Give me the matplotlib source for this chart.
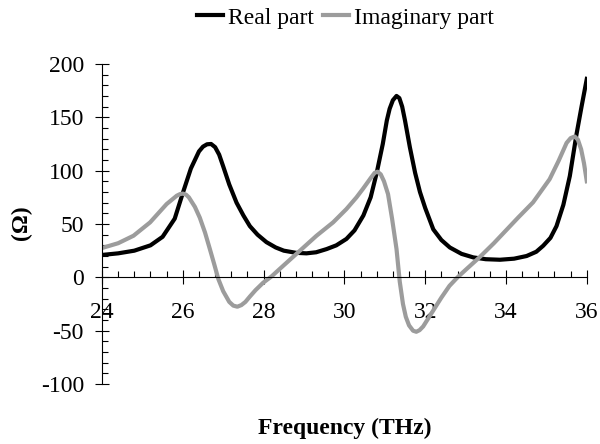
import matplotlib
matplotlib.use("Agg")
import matplotlib.pyplot as plt
from matplotlib.ticker import MultipleLocator

# values
real_freq = [24.0, 24.4, 24.8, 25.2, 25.5, 25.8, 26.0, 26.2, 26.4, 26.5, 26.6, 26.7,
             26.8, 26.9, 27.0, 27.15, 27.33, 27.5, 27.66, 27.85, 28.07, 28.3, 28.5, 28.8,
             29.06, 29.3, 29.56, 29.8, 30.05, 30.25, 30.47, 30.65, 30.8, 30.95, 31.05, 31.12,
             31.2, 31.29, 31.36, 31.43, 31.5, 31.62, 31.75, 31.87, 32.0, 32.2, 32.4, 32.61,
             32.9, 33.19, 33.5, 33.85, 34.2, 34.51, 34.75, 34.92, 35.1, 35.25, 35.42, 35.58,
             35.74, 35.87, 36.0]
real_part = [21, 22.5, 25, 30, 38, 55, 79, 102, 118, 122.5, 124.7, 125,
             122, 115, 104, 87, 70, 58, 48, 40, 33, 28, 25, 23,
             22.5, 23.5, 26.5, 30, 36, 44, 58, 75, 98, 125, 147, 158,
             166, 170, 168, 160, 147, 122, 98, 80, 65, 45, 35, 28,
             22, 18.7, 17, 16.5, 17.5, 20, 24, 29.6, 37, 48, 68, 95,
             133, 160, 186]

imag_freq = [24.0, 24.4, 24.78, 25.19, 25.6, 25.85, 25.93, 26.0, 26.08, 26.15, 26.3, 26.42,
             26.55, 26.67, 26.78, 26.88, 27.0, 27.15, 27.25, 27.35, 27.45, 27.55, 27.66, 27.8,
             27.99, 28.2, 28.49, 28.9, 29.31, 29.72, 30.05, 30.3, 30.46, 30.65, 30.75, 30.82,
             30.9, 30.98, 31.08, 31.18, 31.29, 31.37, 31.45, 31.52, 31.6, 31.7, 31.78, 31.86,
             31.95, 32.05, 32.2, 32.4, 32.6, 32.8, 33.0, 33.35, 33.7, 34.0, 34.3, 34.67,
             35.08, 35.3, 35.5, 35.6, 35.7, 35.78, 35.86, 35.93, 36.0]
imag_part = [27.5, 32, 39, 51.5, 68.7, 76.5, 78, 78.5, 77.5, 75, 66, 56,
             42, 26.5, 12, -1.6, -13, -23, -26.5, -27.5, -26, -23, -18, -12,
             -5, 1, 11, 25, 39, 51.5, 64, 75, 83, 93, 98, 99,
             96.5, 90, 78, 55, 26.5, -4, -25, -37, -45, -50, -51, -49.5,
             -46, -40, -31, -19, -8, 0, 7, 19, 32, 44, 56, 70.3,
             92, 109, 126, 130.5, 132, 129, 120, 107, 90]

plt.rcParams["font.family"] = ["Liberation Serif", "DejaVu Serif"]
plt.rcParams["font.size"] = 17
plt.rcParams["axes.unicode_minus"] = False

fig = plt.figure(figsize=(6, 4.44), dpi=100)
ax = fig.add_axes([0.17, 0.135, 0.808, 0.721])

ax.plot(real_freq, real_part, color="black", linewidth=3, label="Real part",
        solid_joinstyle="round")
ax.plot(imag_freq, imag_part, color="#9c9c9c", linewidth=3, label="Imaginary part",
        solid_joinstyle="round")

ax.set_xlim(24, 36)
ax.set_ylim(-100, 200)

# x axis sits on y = 0
ax.spines["bottom"].set_position(("data", 0))
ax.spines["top"].set_visible(False)
ax.spines["right"].set_visible(False)
ax.spines["bottom"].set_linewidth(0.8)
ax.spines["left"].set_linewidth(0.8)

ax.xaxis.set_major_locator(MultipleLocator(2))
ax.xaxis.set_minor_locator(MultipleLocator(0.4))
ax.yaxis.set_major_locator(MultipleLocator(50))
ax.yaxis.set_minor_locator(MultipleLocator(10))

ax.tick_params(axis="x", which="major", direction="inout", length=9.5, width=0.8, pad=13)
ax.tick_params(axis="x", which="minor", direction="in", length=4, width=0.8)
ax.tick_params(axis="y", which="major", direction="inout", length=10, width=0.8, pad=8)
ax.tick_params(axis="y", which="minor", direction="in", length=4.3, width=0.8)

fig.text(0.574, 1 - 428 / 444, "Frequency (THz)", ha="center", va="center", fontweight="bold")
fig.text(0.035, 1 - 223 / 444, "(Ω)", ha="center", va="center", rotation=90, fontweight="bold")

fig.legend(loc="center", bbox_to_anchor=(0.576, 0.96), ncol=2, frameon=False,
           handlelength=1.1, handletextpad=0.2, columnspacing=0.4)

fig.savefig("out.png", dpi=100)
